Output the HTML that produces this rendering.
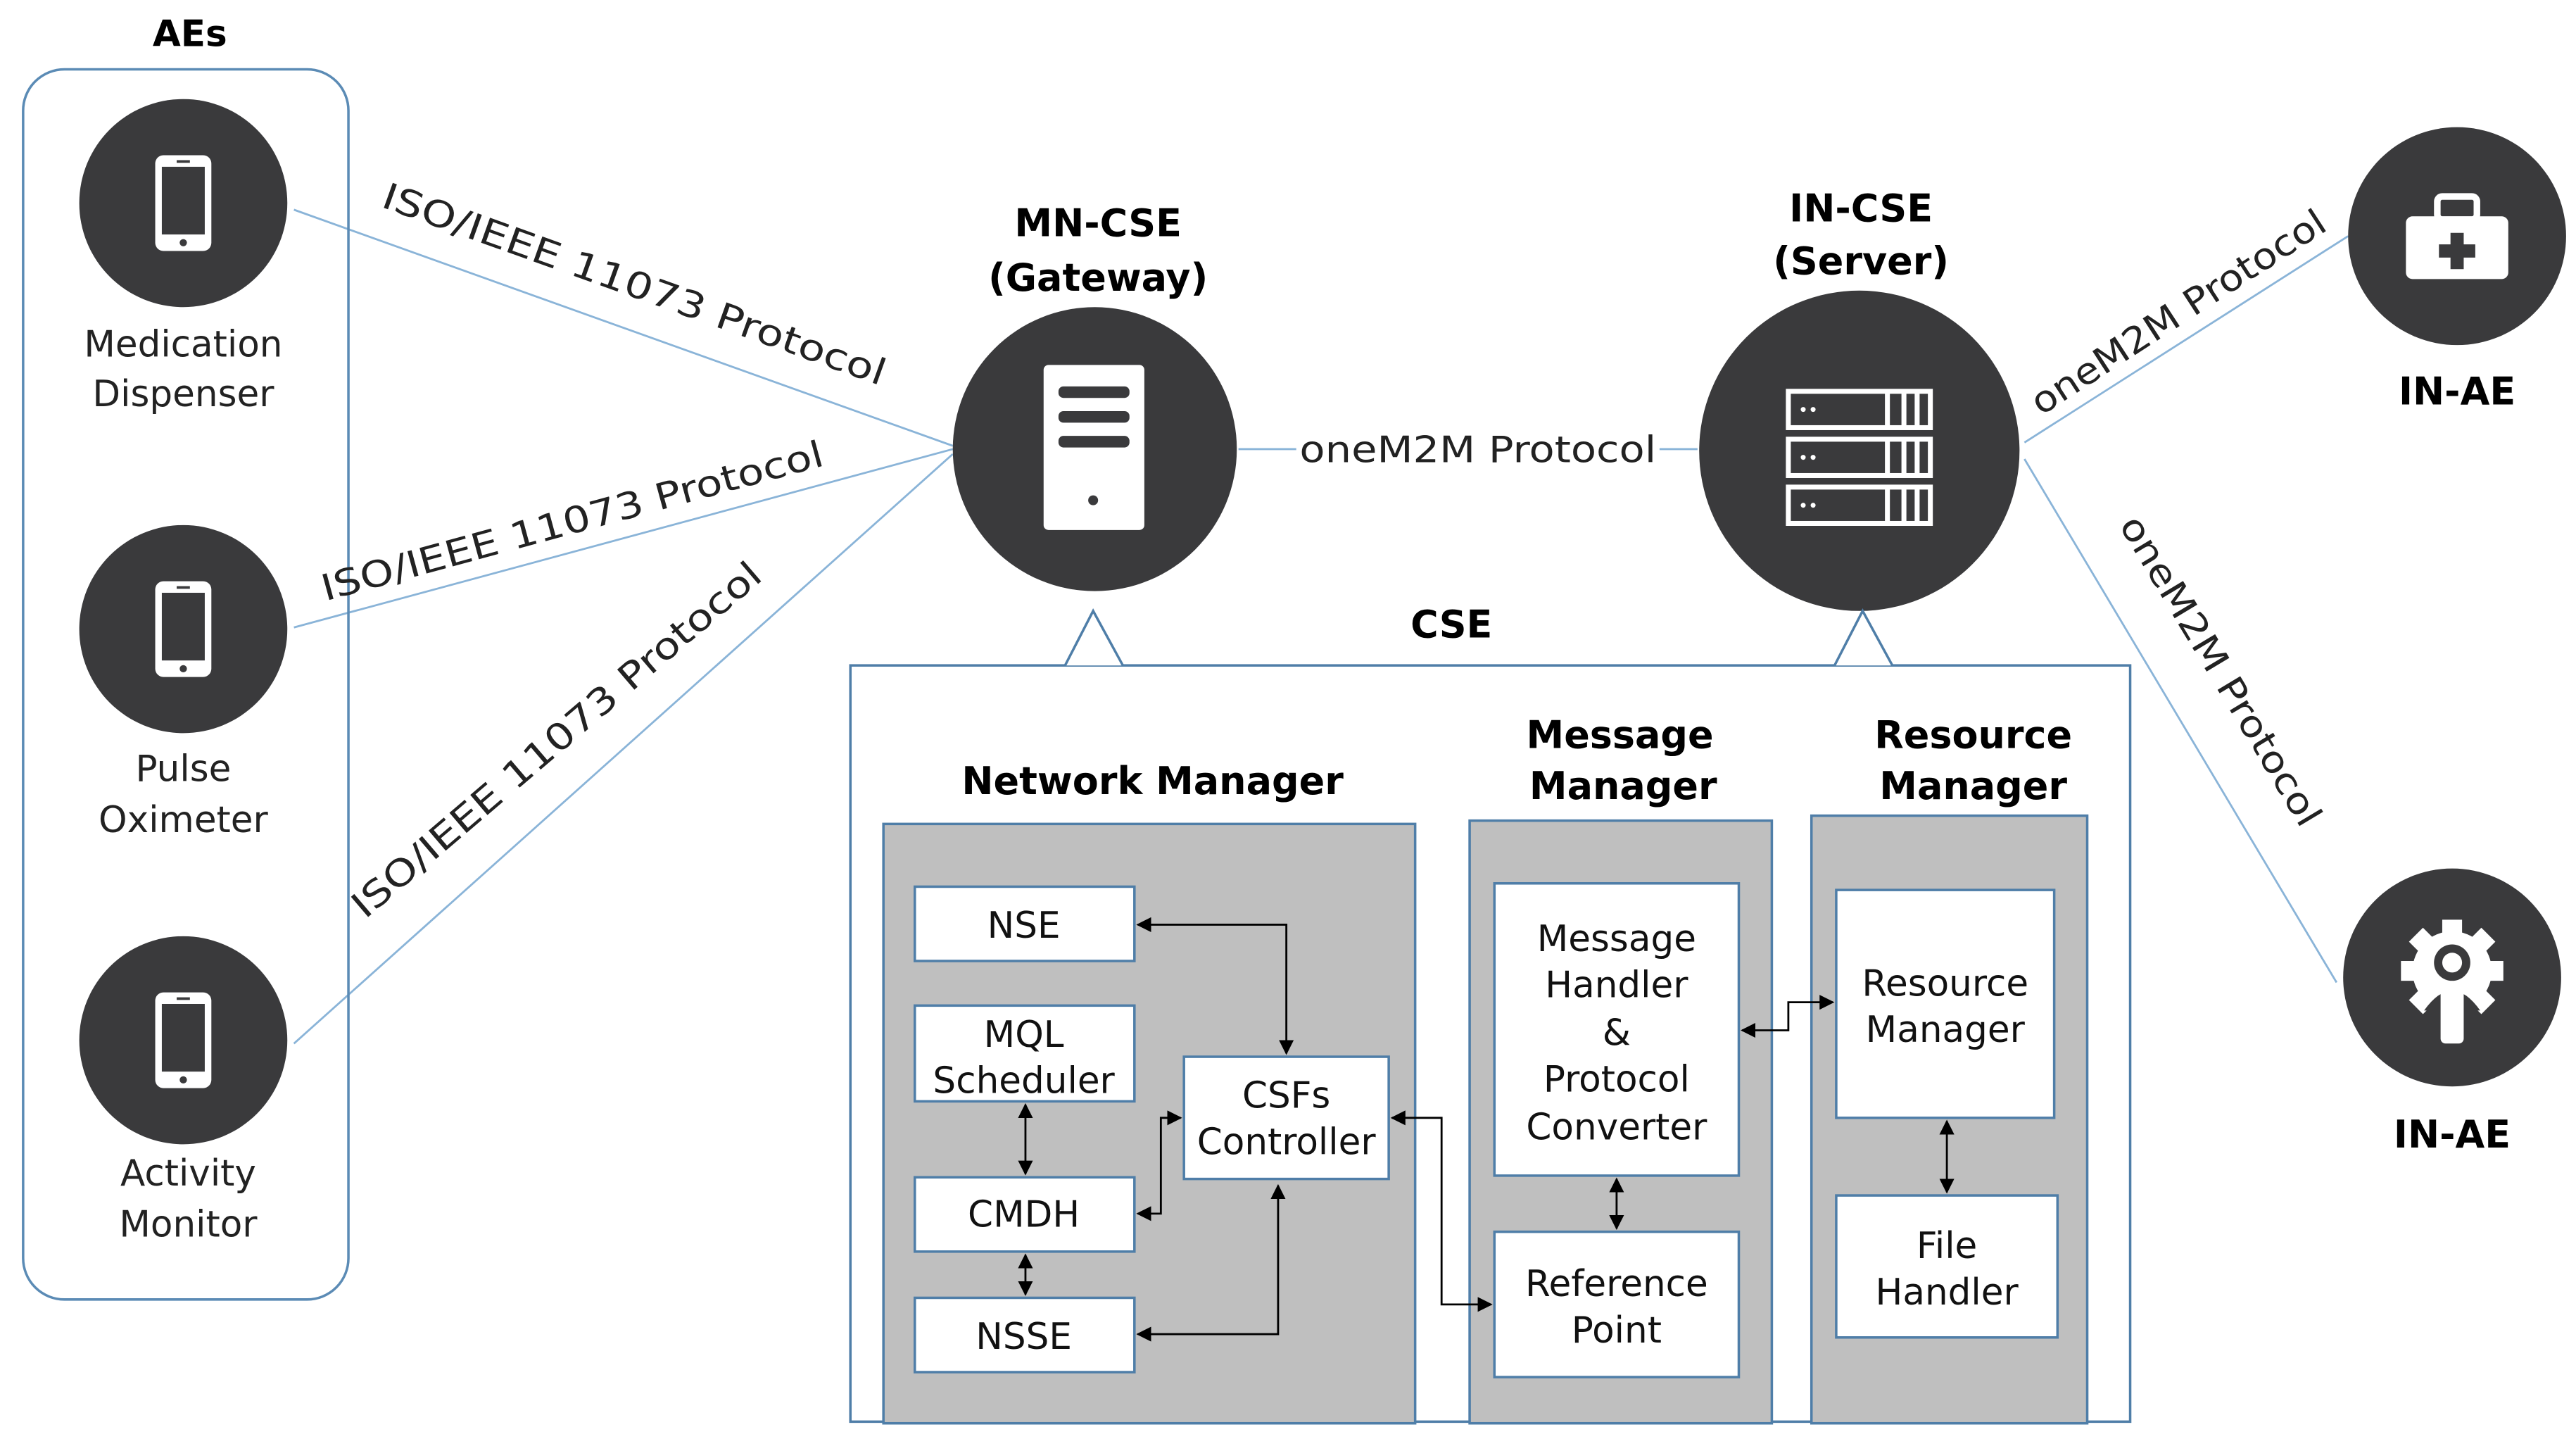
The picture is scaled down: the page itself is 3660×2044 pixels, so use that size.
<!DOCTYPE html>
<html><head><meta charset="utf-8"><style>html,body{margin:0;padding:0;background:#fff}svg{display:block}</style></head>
<body>
<svg width="3660" height="2044" viewBox="0 0 1560 871.5" preserveAspectRatio="none" xmlns="http://www.w3.org/2000/svg" font-family="DejaVu Sans, Liberation Sans, sans-serif">
<defs>
<marker id="a" viewBox="0 0 10 10" refX="9" refY="5" markerWidth="9" markerHeight="9" orient="auto-start-reverse" markerUnits="userSpaceOnUse"><path d="M0,0L10,5L0,10z" fill="#000"/></marker>
<g id="phone"><rect x="-17" y="-29" width="34" height="58" rx="5" fill="#fff"/><rect x="-13" y="-22" width="26" height="41" fill="#3a3a3c"/><circle cx="0" cy="24" r="2.2" fill="#3a3a3c"/><rect x="-4" y="-26" width="8" height="1.6" fill="#3a3a3c"/></g>
</defs>
<g stroke="#8ab4d8" stroke-width="1.2" fill="none">
<line x1="178" y1="127" x2="577" y2="270"/>
<line x1="178" y1="380" x2="577" y2="272"/>
<line x1="178" y1="632" x2="577" y2="275"/>
<line x1="750" y1="272" x2="785" y2="272"/>
<line x1="1005" y1="272" x2="1028" y2="272"/>
<line x1="1226" y1="268" x2="1422" y2="143"/>
<line x1="1226" y1="278" x2="1415" y2="595"/>
</g>
<text x="115" y="28" font-size="22" font-weight="bold" text-anchor="middle">AEs</text>
<rect x="14" y="42" width="197" height="745" rx="25" fill="none" stroke="#5b8bb5" stroke-width="1.5"/>
<g fill="#3a3a3c"><circle cx="111" cy="123" r="63"/><circle cx="111" cy="381" r="63"/><circle cx="111" cy="630" r="63"/></g>
<use href="#phone" x="111" y="123"/><use href="#phone" x="111" y="381"/><use href="#phone" x="111" y="630"/>
<g font-size="22" text-anchor="middle" fill="#222">
<text x="111" y="216">Medication</text><text x="111" y="246">Dispenser</text>
<text x="111" y="473">Pulse</text><text x="111" y="504">Oximeter</text>
<text x="114" y="718">Activity</text><text x="114" y="749">Monitor</text>
</g>
<g font-size="22" fill="#222">
<text transform="translate(230,125) rotate(19.7)" textLength="322" lengthAdjust="spacingAndGlyphs">ISO/IEEE 11073 Protocol</text>
<text transform="translate(197,364) rotate(-15.2)" textLength="314" lengthAdjust="spacingAndGlyphs">ISO/IEEE 11073 Protocol</text>
<text transform="translate(221,557) rotate(-40.5)" textLength="318" lengthAdjust="spacingAndGlyphs">ISO/IEEE 11073 Protocol</text>
<text x="787" y="280" textLength="216" lengthAdjust="spacingAndGlyphs">oneM2M Protocol</text>
<text transform="translate(1236,252) rotate(-33)" textLength="208" lengthAdjust="spacingAndGlyphs">oneM2M Protocol</text>
<text transform="translate(1283,318) rotate(59)" textLength="215" lengthAdjust="spacingAndGlyphs">oneM2M Protocol</text>
</g>
<g font-size="23" font-weight="bold" text-anchor="middle">
<text x="665" y="143">MN-CSE</text><text x="665" y="176">(Gateway)</text>
<text x="1127" y="134">IN-CSE</text><text x="1127" y="166">(Server)</text>
<text x="1488" y="245">IN-AE</text><text x="1485" y="695">IN-AE</text>
</g>
<circle cx="663" cy="272" r="86" fill="#3a3a3c"/>
<rect x="632" y="221" width="61" height="100" rx="3" fill="#fff"/>
<g fill="#3a3a3c"><rect x="641" y="234" width="43" height="7" rx="3"/><rect x="641" y="249" width="43" height="7" rx="3"/><rect x="641" y="264" width="43" height="7" rx="3"/><circle cx="662" cy="303" r="3"/></g>
<circle cx="1126" cy="273" r="97" fill="#3a3a3c"/>
<g fill="none" stroke="#fff" stroke-width="3">
<rect x="1083" y="237" width="86" height="22"/><rect x="1083" y="266" width="86" height="22"/><rect x="1083" y="295" width="86" height="22"/>
<path d="M1143 237v22M1153 237v22M1161 237v22M1143 266v22M1153 266v22M1161 266v22M1143 295v22M1153 295v22M1161 295v22"/>
</g>
<g fill="#fff"><circle cx="1092" cy="248" r="1.5"/><circle cx="1098" cy="248" r="1.5"/><circle cx="1092" cy="277" r="1.5"/><circle cx="1098" cy="277" r="1.5"/><circle cx="1092" cy="306" r="1.5"/><circle cx="1098" cy="306" r="1.5"/></g>
<circle cx="1488" cy="143" r="66" fill="#3a3a3c"/>
<rect x="1457" y="131" width="62" height="38" rx="4" fill="#fff"/>
<rect x="1476" y="119" width="24" height="14" rx="3" fill="none" stroke="#fff" stroke-width="4"/>
<path d="M1484 141h8v7h7v8h-7v7h-8v-7h-7v-8h7z" fill="#3a3a3c"/>
<circle cx="1485" cy="592" r="66" fill="#3a3a3c"/>
<g fill="#fff">
<circle cx="1485" cy="588" r="24"/>
<g transform="translate(1485,588)">
<rect x="-6" y="-31" width="12" height="12"/><rect x="-6" y="19" width="12" height="12"/>
<rect x="-31" y="-6" width="12" height="12"/><rect x="19" y="-6" width="12" height="12"/>
<rect x="-6" y="-31" width="12" height="12" transform="rotate(45)"/><rect x="-6" y="-31" width="12" height="12" transform="rotate(-45)"/>
<rect x="-6" y="19" width="12" height="12" transform="rotate(45)"/><rect x="-6" y="19" width="12" height="12" transform="rotate(-45)"/>
</g>
</g>
<circle cx="1485" cy="583" r="11" fill="#3a3a3c"/>
<circle cx="1485" cy="583" r="6" fill="#fff"/>
<path d="M1468 612q17-24 34 0z" fill="#3a3a3c"/>
<rect x="1478" y="598" width="14" height="34" rx="3" fill="#fff"/>
<text x="879" y="386" font-size="23" font-weight="bold" text-anchor="middle">CSE</text>
<g fill="#fff" stroke="#4f7ea8" stroke-width="1.5">
<rect x="515" y="403" width="775" height="458"/>
<path d="M645 403L662 370L680 403"/><path d="M1111 403L1128 370L1146 403"/>
</g>
<g font-size="23" font-weight="bold" text-anchor="middle">
<text x="698" y="481">Network Manager</text>
<text x="981" y="453">Message</text><text x="983" y="484">Manager</text>
<text x="1195" y="453">Resource</text><text x="1195" y="484">Manager</text>
</g>
<g fill="#bfbfbf" stroke="#4f7ea8" stroke-width="1.5">
<rect x="535" y="499" width="322" height="363"/>
<rect x="890" y="497" width="183" height="365"/>
<rect x="1097" y="494" width="167" height="368"/>
</g>
<g fill="#fff" stroke="#4f7ea8" stroke-width="1.5">
<rect x="554" y="537" width="133" height="45"/>
<rect x="554" y="609" width="133" height="58"/>
<rect x="554" y="713" width="133" height="45"/>
<rect x="554" y="786" width="133" height="45"/>
<rect x="717" y="640" width="124" height="74"/>
<rect x="905" y="535" width="148" height="177"/>
<rect x="905" y="746" width="148" height="88"/>
<rect x="1112" y="539" width="132" height="138"/>
<rect x="1112" y="724" width="134" height="86"/>
</g>
<g font-size="22" text-anchor="middle" fill="#111">
<text x="620" y="568">NSE</text>
<text x="620" y="634">MQL</text><text x="620" y="662">Scheduler</text>
<text x="620" y="743">CMDH</text>
<text x="620" y="817">NSSE</text>
<text x="779" y="671">CSFs</text><text x="779" y="699">Controller</text>
<text x="979" y="576">Message</text><text x="979" y="604">Handler</text><text x="979" y="633">&amp;</text><text x="979" y="661">Protocol</text><text x="979" y="690">Converter</text>
<text x="979" y="785">Reference</text><text x="979" y="813">Point</text>
<text x="1178" y="603">Resource</text><text x="1178" y="631">Manager</text>
<text x="1179" y="762">File</text><text x="1179" y="790">Handler</text>
</g>
<g stroke="#000" stroke-width="1.2" fill="none" marker-start="url(#a)" marker-end="url(#a)">
<path d="M689 560H779V638"/>
<path d="M621 669V711"/>
<path d="M621 760V784"/>
<path d="M689 735H703V677H715"/>
<path d="M689 808H774V718"/>
<path d="M843 677H873V790H903"/>
<path d="M1055 624H1083V607H1110"/>
<path d="M979 714V744"/>
<path d="M1179 679V722"/>
</g>
</svg>
</body></html>
